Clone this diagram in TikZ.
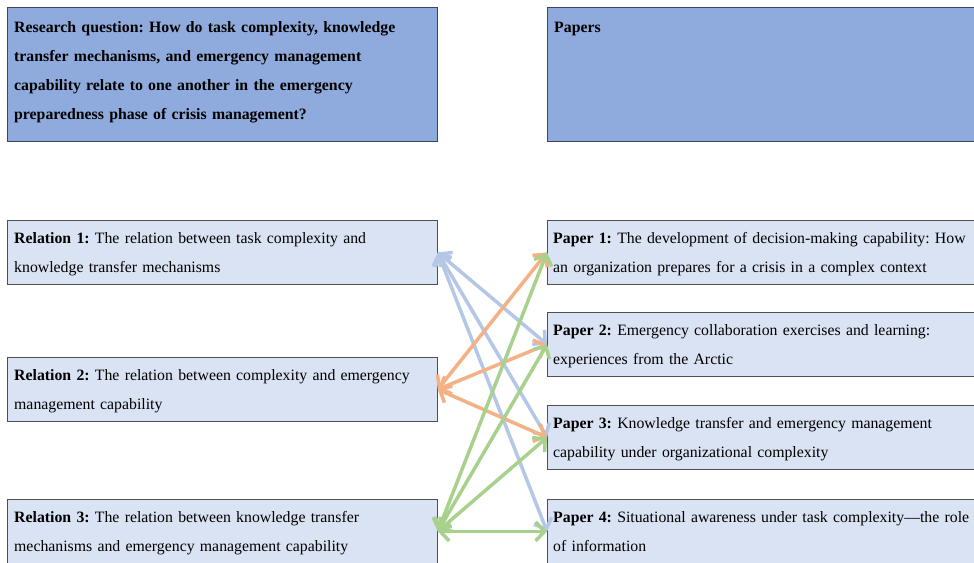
\documentclass[tikz,border=0pt]{standalone}
\usepackage{fontspec}
\setmainfont{Liberation Serif}
\usetikzlibrary{arrows.meta}
\definecolor{hdrfill}{HTML}{8FAADC}
\definecolor{hdrline}{HTML}{3A4660}
\definecolor{boxfill}{HTML}{DAE3F3}
\definecolor{boxline}{HTML}{505050}
\definecolor{arrblue}{HTML}{B4C7E7}
\definecolor{arrorange}{HTML}{F4B183}
\definecolor{arrgreen}{HTML}{A9D18E}
\tikzset{
  hdrbox/.style={draw=hdrline, fill=hdrfill, line width=0.9pt, anchor=north west,
    minimum width=430pt, minimum height=134pt, inner sep=0pt},
  itembox/.style={draw=boxline, fill=boxfill, line width=0.8pt, anchor=north west,
    minimum width=430pt, minimum height=64pt, inner sep=0pt},
  boxtext/.style={anchor=base west, inner sep=0pt, text width=425pt, align=left,
    font=\fontsize{15.8}{29}\selectfont\frenchspacing},
  hdrtext/.style={boxtext, font=\fontsize{15.8}{29}\selectfont\bfseries\frenchspacing},
  link/.style={line width=3.5pt, {Straight Barb[length=9pt,width=19pt]}-{Straight Barb[length=9pt,width=19pt]}},
}
\begin{document}
\begin{tikzpicture}[x=1pt,y=-1pt]
\useasboundingbox (0,0) rectangle (974,562);
\clip (0,0) rectangle (974,562);
\node[hdrbox] (rq) at (7,7) {};
\node[hdrbox] (pp) at (547,7) {};
\node[hdrtext] (rqt) at ([shift={(7,25)}]rq.north west) {Research question: How do task complexity, knowledge\\transfer mechanisms, and emergency management\\capability relate to one another in the emergency\\preparedness phase of crisis management?};
\node[hdrtext] (ppt) at ([shift={(7,25)}]pp.north west) {Papers};
\node[itembox] (r1) at (7,220) {};
\node[itembox] (r2) at (7,357) {};
\node[itembox] (r3) at (7,499) {};
\node[itembox] (p1) at (547,220) {};
\node[itembox] (p2) at (547,312) {};
\node[itembox] (p3) at (547,405) {};
\node[itembox] (p4) at (547,499) {};
\node[boxtext] (r1t) at ([shift={(7,23)}]r1.north west) {\textbf{Relation 1:} The relation between task complexity and\\knowledge transfer mechanisms};
\node[boxtext] (r2t) at ([shift={(7,23)}]r2.north west) {\textbf{Relation 2:} The relation between complexity and emergency\\management capability};
\node[boxtext] (r3t) at ([shift={(7,23)}]r3.north west) {\textbf{Relation 3:} The relation between knowledge transfer\\mechanisms and emergency management capability};
\node[boxtext] (p1t) at ([shift={(6,23)}]p1.north west) {\textbf{Paper 1:} The development of decision-making capability: How\\an organization prepares for a crisis in a complex context};
\node[boxtext] (p2t) at ([shift={(6,23)}]p2.north west) {\textbf{Paper 2:} Emergency collaboration exercises and learning:\\experiences from the Arctic};
\node[boxtext] (p3t) at ([shift={(6,23)}]p3.north west) {\textbf{Paper 3:} Knowledge transfer and emergency management\\capability under organizational complexity};
\node[boxtext] (p4t) at ([shift={(6,23)}]p4.north west) {\textbf{Paper 4:} Situational awareness under task complexity---the role\\of information};
% blue
\draw[link, arrblue] (r1.east) -- (p2.west);
\draw[link, arrblue] (r1.east) -- (p3.west);
\draw[link, arrblue] (r1.east) -- (p4.west);
% orange
\draw[link, arrorange] (r2.east) -- (p1.west);
\draw[link, arrorange] (r2.east) -- (p2.west);
\draw[link, arrorange] (r2.east) -- (p3.west);
% green
\draw[link, arrgreen] (r3.east) -- (p1.west);
\draw[link, arrgreen] (r3.east) -- (p2.west);
\draw[link, arrgreen] (r3.east) -- (p3.west);
\draw[link, arrgreen] (r3.east) -- (p4.west);
\end{tikzpicture}
\end{document}
